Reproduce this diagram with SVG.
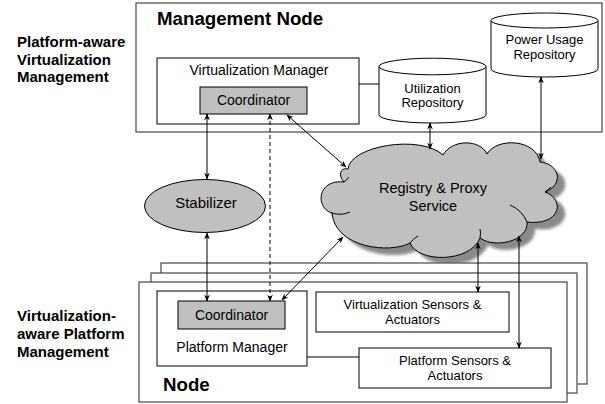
<svg xmlns="http://www.w3.org/2000/svg" width="605" height="404" viewBox="0 0 605 404">
<defs>
<style>
text{font-family:"Liberation Sans",Arial,sans-serif;fill:#000}
.lbl{font-size:15px;font-weight:bold}
.t14{font-size:14px;text-anchor:middle}
.t13{font-size:13px;text-anchor:middle}
.big{font-size:18.7px;font-weight:bold}
.frame{fill:#fff;stroke:#555;stroke-width:1.3}
.box{fill:#fff;stroke:#000;stroke-width:1}
.gbox{fill:#c0c0c0;stroke:#000;stroke-width:1}
.con{fill:none;stroke:#000;stroke-width:1}
.arr{marker-start:url(#ah);marker-end:url(#ah)}
</style>
<marker id="ah" viewBox="0 0 10 10" refX="9" refY="5" markerWidth="7" markerHeight="7" orient="auto-start-reverse" markerUnits="userSpaceOnUse">
<path d="M0,1 L10,5 L0,9 L3,5 z" fill="#000"/>
</marker>
<filter id="blur" x="-10%" y="-10%" width="120%" height="120%"><feGaussianBlur stdDeviation="1.5"/></filter>
<path id="cloudshape" d="M348,169 C350,146 420,134 443,155 C452,139 480,139 487,154 C497,137 536,139 540,162 C560,164 564,185 545,192 C566,200 560,226 527,222 C529,241 495,249 480,238 C470,263 418,263 410,243 C390,254 335,248 332,213 C315,208 317,179 344,182 C338,176 340,167 348,169 Z"/>
</defs>

<g id="label-top">
<text class="lbl" x="17" y="47">Platform-aware</text>
<text class="lbl" x="17" y="64.5">Virtualization</text>
<text class="lbl" x="17" y="82">Management</text>
</g>
<g id="label-bottom">
<text class="lbl" x="17" y="321">Virtualization-</text>
<text class="lbl" x="17" y="339">aware Platform</text>
<text class="lbl" x="17" y="357">Management</text>
</g>

<g id="management-node">
<rect class="frame" x="136" y="3" width="466" height="129"/>
<text class="big" x="157" y="25">Management Node</text>
</g>

<g id="virtualization-manager">
<rect class="box" x="157" y="58" width="202" height="66"/>
<text class="t14" x="259" y="75">Virtualization Manager</text>
</g>

<g id="coordinator-top">
<rect class="gbox" x="200" y="87" width="107" height="27"/>
<text class="t14" x="253.5" y="105">Coordinator</text>
</g>

<g id="utilization-repository">
<path class="box" d="M379,66.5 L379,115 A53.5,8 0 0 0 486,115 L486,66.5"/>
<ellipse class="box" cx="432.5" cy="66.5" rx="53.5" ry="8.3"/>
<text class="t13" x="432.5" y="93">Utilization</text>
<text class="t13" x="432.5" y="107">Repository</text>
</g>

<g id="power-usage-repository">
<path class="box" d="M491,20.5 L491,69 A53.5,8 0 0 0 598,69 L598,20.5"/>
<ellipse class="box" cx="544.5" cy="20.5" rx="53.5" ry="7.5"/>
<text class="t13" x="544.5" y="44">Power Usage</text>
<text class="t13" x="544.5" y="59">Repository</text>
</g>

<g id="stabilizer">
<ellipse class="gbox" cx="205" cy="206" rx="60.5" ry="26.5"/>
<text class="t14" x="206" y="208" style="font-size:15px">Stabilizer</text>
</g>

<g id="registry-proxy-service">
<use href="#cloudshape" transform="translate(8,7)" fill="#8a8a8a" filter="url(#blur)"/>
<use href="#cloudshape" fill="#c0c0c0" stroke="#000" stroke-width="1"/>
<path class="con" d="M332,213 Q341,216 350,212 M344,182 Q347,180 349,177 M545,192 Q548,190 551,187 M510,205 Q522,210 527,222 M480,238 Q481,233 480,229 M410,243 Q414,238 418,236"/>
<text class="t14" x="433" y="193" style="font-size:14.5px">Registry &amp; Proxy</text>
<text class="t14" x="433" y="211" style="font-size:14.5px">Service</text>
</g>

<g id="node">
<rect class="frame" x="161" y="263" width="426" height="121"/>
<rect class="frame" x="151" y="273" width="426" height="120"/>
<rect class="frame" x="139" y="282" width="428" height="120"/>
<text class="big" x="163" y="391">Node</text>
</g>

<g id="platform-manager">
<rect class="box" x="157" y="291" width="150" height="75"/>
<text class="t14" x="232" y="352">Platform Manager</text>
</g>

<g id="coordinator-bottom">
<rect class="gbox" x="178" y="301" width="107" height="28"/>
<text class="t14" x="231.5" y="320">Coordinator</text>
</g>

<g id="virtualization-sensors">
<rect class="box" x="316" y="292" width="193" height="40"/>
<text class="t13" x="412.5" y="309">Virtualization Sensors &amp;</text>
<text class="t13" x="412.5" y="324">Actuators</text>
</g>

<g id="platform-sensors">
<rect class="box" x="359" y="348" width="192" height="40"/>
<text class="t13" x="455" y="365">Platform Sensors &amp;</text>
<text class="t13" x="455" y="380">Actuators</text>
</g>

<g id="connectors">
<line class="con" x1="359" y1="84" x2="379" y2="84"/>
<line class="con" x1="307" y1="357" x2="359" y2="357"/>
<line class="con arr" x1="207" y1="114" x2="207" y2="179"/>
<line class="con arr" x1="207" y1="233" x2="207" y2="301"/>
<line class="con arr" x1="270" y1="114" x2="270" y2="301" stroke-dasharray="4,3"/>
<line class="con arr" x1="287" y1="115" x2="346" y2="167"/>
<line class="con arr" x1="343" y1="237" x2="282" y2="300"/>
<line class="con arr" x1="430" y1="123" x2="430" y2="149"/>
<line class="con arr" x1="541" y1="77" x2="541" y2="159"/>
<line class="con arr" x1="478" y1="243" x2="478" y2="292"/>
<line class="con arr" x1="519" y1="236" x2="519" y2="348"/>
</g>
</svg>
